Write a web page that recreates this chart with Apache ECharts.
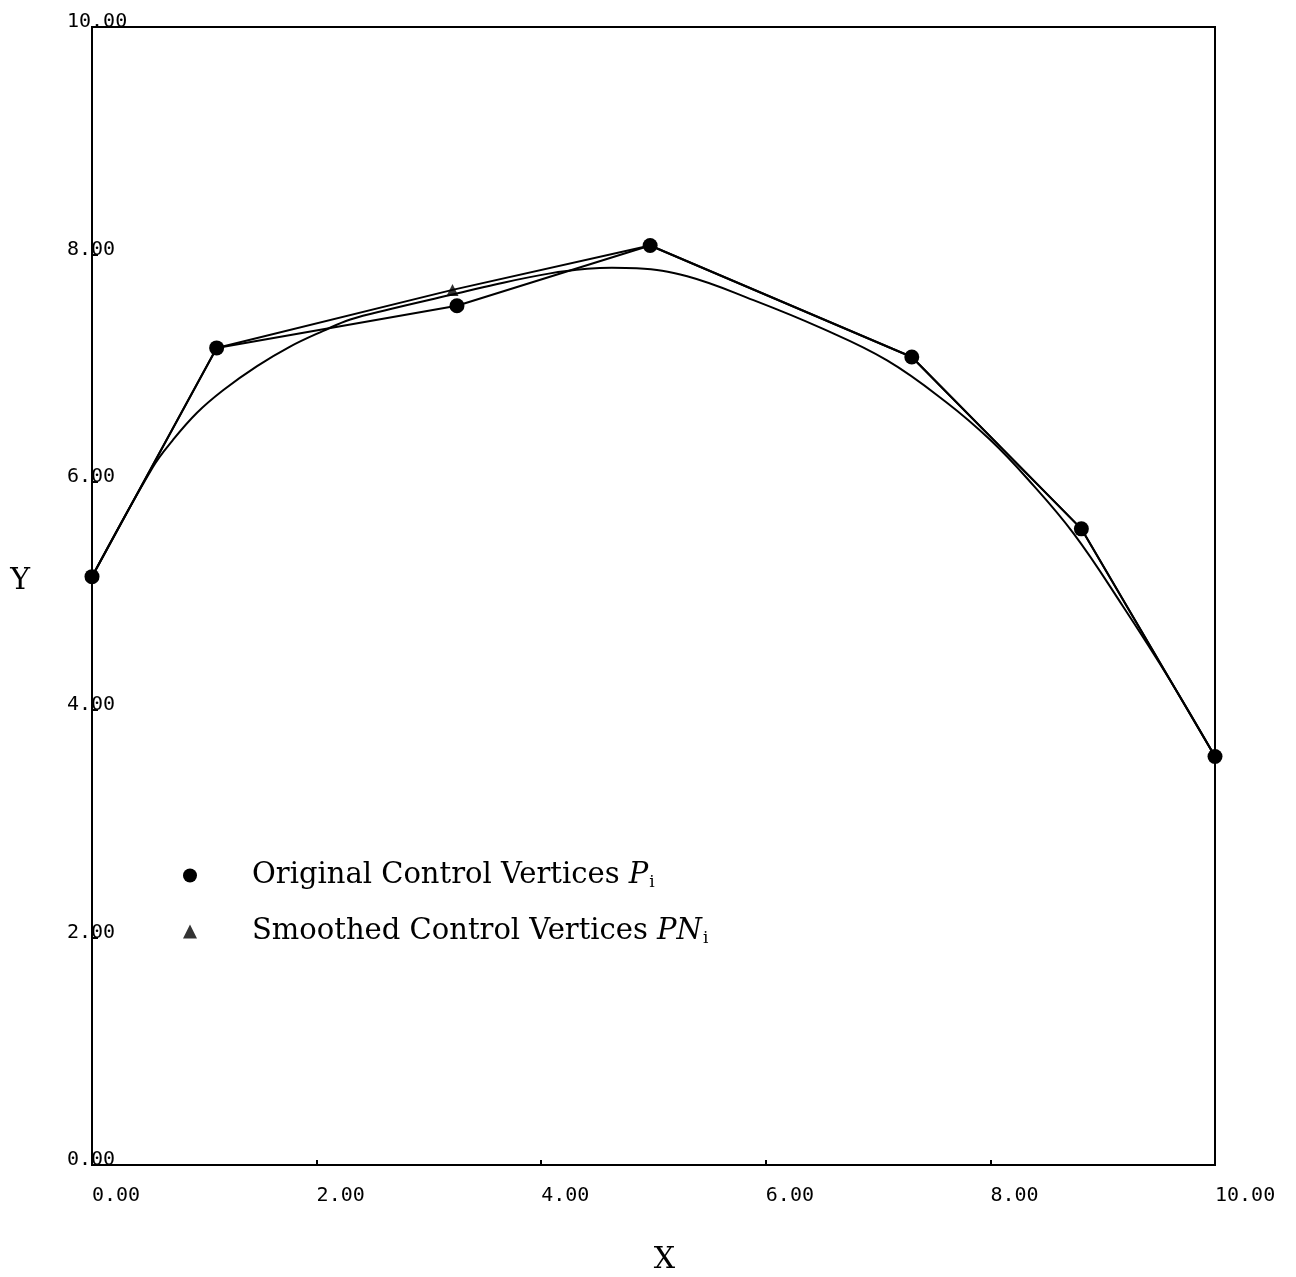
<!DOCTYPE html>
<html>
<head>
<meta charset="utf-8">
<script src="https://cdn.jsdelivr.net/npm/echarts@6/dist/echarts.min.js"></script>
<style>
  html, body { margin: 0; padding: 0; background: #fff; }
  #chart { width: 1296px; height: 1277px; }
</style>
</head>
<body>
<div id="chart"></div>
<script>
// original control vertices P_i
const ptX = [0.0, 1.11, 3.25, 4.97, 7.30, 8.81, 10.0];
const ptY = [5.17, 7.18, 7.55, 8.08, 7.10, 5.59, 3.59];

// smoothed control vertices PN_i (only the third one moved)
const smX = [0.0, 1.11, 3.21, 4.97, 7.30, 8.81, 10.0];
const smY = [5.17, 7.18, 7.69, 8.08, 7.10, 5.59, 3.59];
const movedIdx = [2];

// smoothed curve
const curveX = [0.0, 0.54, 0.72, 0.935, 1.17, 1.47, 1.76, 2.06, 2.30, 2.65, 3.19, 3.60, 4.08, 4.41, 4.63, 4.85, 5.30, 5.89, 6.48, 7.08, 7.61, 8.00, 8.33, 8.74, 9.18, 9.60, 10.0];
const curveY = [5.17, 6.13, 6.37, 6.61, 6.81, 7.02, 7.19, 7.33, 7.43, 7.52, 7.645, 7.74, 7.835, 7.875, 7.885, 7.88, 7.81, 7.60, 7.36, 7.07, 6.70, 6.37, 6.03, 5.55, 4.91, 4.26, 3.59];

const tickFont = 'DejaVu Sans Mono';
const serif = 'DejaVu Serif';

const zip = (xs, ys) => xs.map((x, i) => [x, ys[i]]);

const chart = echarts.init(document.getElementById('chart'));

const legendRich = {
  s: { width: 50 },
  a: { fontFamily: serif, fontSize: 29, color: '#000' },
  p: { fontFamily: serif, fontSize: 29, fontStyle: 'italic', color: '#000' },
  i: { fontFamily: serif, fontSize: 17, color: '#000', padding: [14, 0, 0, 1] }
};

const option = {
  backgroundColor: '#fff',
  animation: false,
  grid: {
    left: 92, right: 81, top: 27, bottom: 112,
    outerBoundsMode: 'none',
    containLabel: false,
    show: true,
    borderColor: '#000',
    borderWidth: 2
  },
  legend: {
    orient: 'vertical',
    left: 178,
    top: 856,
    itemWidth: 14,
    itemHeight: 14,
    itemGap: 26,
    selectedMode: false,
    data: [
      { name: 'Original Control Vertices', icon: 'circle' },
      { name: 'Smoothed Control Vertices', icon: 'triangle' }
    ],
    formatter: function (name) {
      if (name === 'Original Control Vertices') {
        return '{s|}{a|Original Control Vertices }{p|P}{i|i}';
      }
      return '{s|}{a|Smoothed Control Vertices }{p|PN}{i|i}';
    },
    textStyle: { rich: legendRich }
  },
  xAxis: {
    type: 'value',
    min: 0, max: 10, interval: 2,
    name: 'X',
    nameLocation: 'middle',
    nameGap: 80,
    nameTextStyle: { fontFamily: serif, fontSize: 30, color: '#000', padding: [0, 0, 0, 22] },
    axisLine: { lineStyle: { color: '#000', width: 2 } },
    axisTick: { inside: true, length: 5, lineStyle: { color: '#000', width: 2 } },
    splitLine: { show: false },
    axisLabel: {
      fontFamily: tickFont, fontSize: 20, color: '#000',
      align: 'left', margin: 21,
      formatter: v => v.toFixed(2)
    }
  },
  yAxis: {
    type: 'value',
    min: 0, max: 10, interval: 2,
    name: 'Y',
    nameLocation: 'middle',
    nameRotate: 0,
    nameGap: 62,
    nameTextStyle: { fontFamily: serif, fontSize: 30, color: '#000', verticalAlign: 'bottom' },
    axisLine: { show: true, lineStyle: { color: '#000', width: 2 } },
    axisTick: { show: true, inside: true, length: 6, lineStyle: { color: '#000', width: 2 } },
    splitLine: { show: false },
    axisLabel: {
      fontFamily: tickFont, fontSize: 20, color: '#000',
      align: 'left', margin: 25,
      verticalAlign: 'bottom',
      lineHeight: 10,
      formatter: v => v.toFixed(2)
    }
  },
  series: [
    {
      name: 'curve',
      type: 'line',
      data: zip(curveX, curveY),
      smooth: 0.4,
      showSymbol: false,
      clip: false,
      lineStyle: { color: '#000', width: 2 },
      z: 2
    },
    {
      name: 'smoothed polygon',
      type: 'line',
      data: zip(smX, smY),
      showSymbol: false,
      clip: false,
      lineStyle: { color: '#000', width: 2 },
      z: 2
    },
    {
      name: 'Original Control Vertices',
      type: 'line',
      data: zip(ptX, ptY),
      symbol: 'circle',
      symbolSize: 15,
      clip: false,
      itemStyle: { color: '#000' },
      lineStyle: { color: '#000', width: 2 },
      z: 3
    },
    {
      name: 'Smoothed Control Vertices',
      type: 'scatter',
      data: movedIdx.map(i => [smX[i], smY[i]]),
      symbol: 'triangle',
      symbolSize: 12,
      itemStyle: { color: '#000' },
      z: 4
    }
  ]
};

chart.setOption(option);
</script>
</body>
</html>
